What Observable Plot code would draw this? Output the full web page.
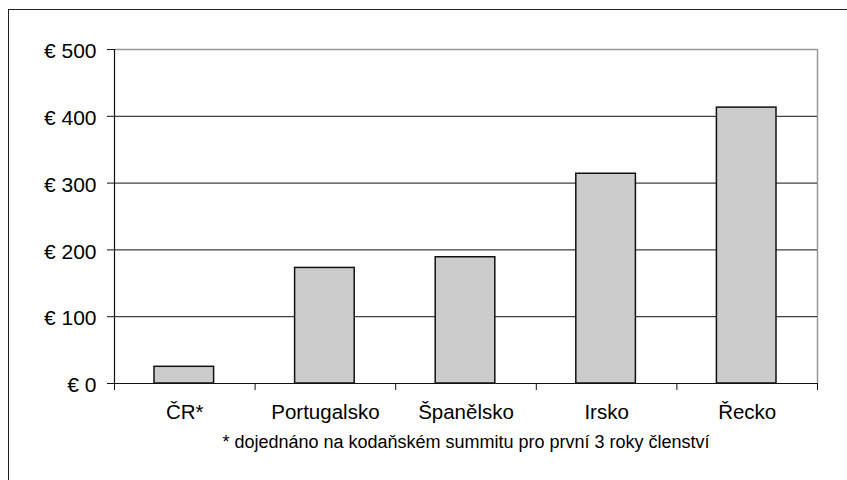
<!DOCTYPE html>
<html>
<head>
<meta charset="utf-8">
<script src="https://cdn.jsdelivr.net/npm/d3@7"></script>
<script src="https://cdn.jsdelivr.net/npm/@observablehq/plot@0.6"></script>
<style>
  html, body { margin: 0; padding: 0; background: #fff; }
  #chart { position: relative; width: 847px; height: 480px; overflow: hidden; }
  #frame { position: absolute; left: 8px; top: 9px; width: 900px; height: 600px; border: 1.5px solid #222; box-sizing: border-box; }
  #chart svg { position: absolute; left: 0; top: 0; }
</style>
</head>
<body>
<div id="chart"><div id="frame"></div></div>
<script>
const categories = ["ČR*", "Portugalsko", "Španělsko", "Irsko", "Řecko"];
const values = [25, 173, 189, 314, 413];
const yTicks = [0, 100, 200, 300, 400, 500];
const footnote = "* dojednáno na kodaňském summitu pro první 3 roky členství";

const data = categories.map((c, i) => ({cat: c, i, value: values[i]}));
const boundaries = d3.range(categories.length + 1);
const n = categories.length;

const plot = Plot.plot({
  width: 847,
  height: 480,
  marginLeft: 114,
  marginRight: 30,
  marginTop: 49,
  marginBottom: 97,
  style: {fontFamily: "Liberation Sans, Arial, sans-serif", background: "transparent"},
  x: {type: "linear", domain: [0, n], axis: null},
  y: {type: "linear", domain: [0, 500], axis: null, label: null},
  marks: [
    // plot area border (top & right, gray)
    Plot.ruleY([500], {x1: 0, x2: n, stroke: "#999", strokeWidth: 1.5}),
    Plot.ruleX([n], {y1: 0, y2: 500, stroke: "#999", strokeWidth: 1.5}),
    // gridlines
    Plot.ruleY(yTicks.filter(d => d > 0 && d < 500), {x1: 0, x2: n, stroke: "#111", strokeWidth: 1}),
    // bars
    Plot.rectY(data, {x1: d => d.i, x2: d => d.i + 1, y1: 0, y2: "value", fill: "#cccccc", stroke: "#111", strokeWidth: 1.5, insetLeft: 40, insetRight: 41}),
    // axes lines
    Plot.ruleX([0], {y1: 0, y2: 500, stroke: "#111", strokeWidth: 1.2}),
    Plot.ruleY([0], {x1: 0, x2: n, stroke: "#111", strokeWidth: 1.2}),
    // y ticks
    Plot.axisY(yTicks, {tickSize: 7, text: null, stroke: "#111", strokeWidth: 1, label: null}),
    // y labels
    Plot.axisY(yTicks, {tickSize: 0, tickPadding: 18, fontSize: 21, dy: 2, tickFormat: d => "€ " + d, color: "#000", label: null}),
    // x boundary ticks
    Plot.axisX(boundaries, {tickSize: 7, tickFormat: () => "", stroke: "#111", strokeWidth: 1, label: null}),
    // category labels
    Plot.text(data, {x: d => d.i + 0.5, y: 0, text: "cat", dy: 29, fontSize: 20.5, fill: "#000"}),
    // footnote
    Plot.text([footnote], {x: n / 2, y: 0, text: d => d, dy: 59, fontSize: 18, fill: "#000"})
  ]
});
document.getElementById("chart").appendChild(plot);
</script>
</body>
</html>
